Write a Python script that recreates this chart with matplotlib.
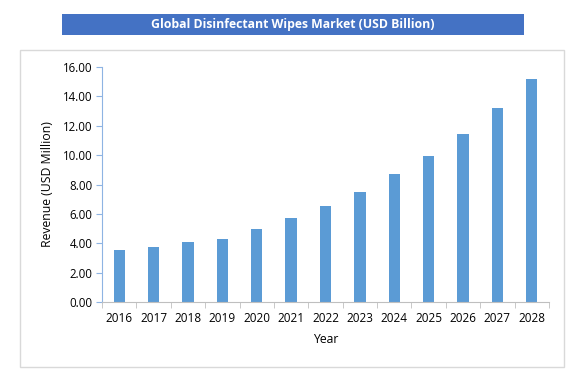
import matplotlib.pyplot as plt
from matplotlib.patches import Rectangle
import numpy as np

years = ["2016", "2017", "2018", "2019", "2020", "2021", "2022",
         "2023", "2024", "2025", "2026", "2027", "2028"]
revenue = [3.53, 3.76, 4.08, 4.28, 4.96, 5.71, 6.54,
           7.49, 8.70, 9.96, 11.46, 13.18, 15.19]
y_ticks = [0, 2, 4, 6, 8, 10, 12, 14, 16]

plt.rcParams['font.family'] = ['Open Sans', 'DejaVu Sans']

W, H = 584, 390
fig = plt.figure(figsize=(W / 100, H / 100), dpi=100)

# gray chart border
fig.patches.append(Rectangle((19.5 / W, 1 - 367 / H), (564 - 19.5) / W, (367 - 50) / H,
                             transform=fig.transFigure, fill=False,
                             edgecolor="#d9d9d9", linewidth=1))

# title banner
fig.patches.append(Rectangle((62 / W, 1 - 35 / H), (524 - 62) / W, 21 / H,
                             transform=fig.transFigure, facecolor="#4472c4",
                             edgecolor="none"))
fig.text(293 / W, 1 - 24.5 / H, "Global Disinfectant Wipes Market (USD Billion)",
         ha="center", va="center", color="white", fontsize=8.8, fontweight="bold")

ax = fig.add_axes([102 / W, 1 - 302.3 / H, (549 - 102) / W, (302.3 - 66.7) / H])
x = np.arange(len(years))
ax.bar(x, revenue, width=0.33, color="#5b9bd5")

ax.set_xlim(-0.5, len(years) - 0.5)
ax.set_ylim(0, 16)
ax.set_yticks(y_ticks)
ax.set_yticklabels(["%.2f" % v for v in y_ticks], fontsize=8.3)
ax.set_xticks(x)
ax.set_xticklabels(years, fontsize=8.5)
ax.set_xticks(np.arange(len(years) + 1) - 0.5, minor=True)
ax.tick_params(axis="x", which="major", length=0, pad=7)
ax.tick_params(axis="x", which="minor", length=4, color="#bfbfbf")
ax.tick_params(axis="y", length=4, color="#8eb4e3", pad=3)

for s in ["top", "right"]:
    ax.spines[s].set_visible(False)
ax.spines["left"].set_color("#8eb4e3")
ax.spines["bottom"].set_color("#bfbfbf")

ax.set_xlabel("Year", fontsize=8.8, labelpad=6)
ax.set_ylabel("Revenue (USD Million)", fontsize=8.8, labelpad=6)

fig.savefig("out.png", dpi=100)
